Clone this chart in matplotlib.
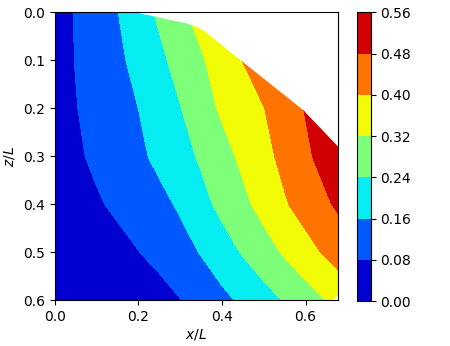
import numpy as np
import matplotlib
matplotlib.use("Agg")
import matplotlib.pyplot as plt
from matplotlib.patches import Polygon

x_pts = [0.00, 0.05, 0.10, 0.15, 0.20, 0.25, 0.30, 0.35, 0.40, 0.45, 0.50, 0.55, 0.60, 0.65, 0.70]
z_pts = [0.0, 0.1, 0.2, 0.3, 0.4, 0.5, 0.6]

field = [
    [0.045, 0.084, 0.121, 0.158, 0.206, 0.252, 0.305, 0.348, 0.388, 0.428, 0.468, 0.508, 0.548, 0.555, 0.555],
    [0.050, 0.082, 0.113, 0.145, 0.182, 0.223, 0.267, 0.311, 0.356, 0.401, 0.439, 0.476, 0.516, 0.550, 0.555],
    [0.050, 0.077, 0.105, 0.132, 0.160, 0.198, 0.237, 0.287, 0.331, 0.365, 0.398, 0.441, 0.484, 0.522, 0.555],
    [0.043, 0.068, 0.094, 0.120, 0.146, 0.176, 0.212, 0.250, 0.293, 0.336, 0.377, 0.421, 0.466, 0.508, 0.548],
    [0.030, 0.047, 0.071, 0.094, 0.118, 0.141, 0.169, 0.216, 0.260, 0.302, 0.346, 0.392, 0.432, 0.470, 0.508],
    [0.008, 0.020, 0.037, 0.055, 0.078, 0.106, 0.134, 0.164, 0.205, 0.246, 0.287, 0.329, 0.371, 0.411, 0.449],
    [0.002, 0.006, 0.012, 0.020, 0.030, 0.046, 0.0775, 0.109, 0.140, 0.174, 0.209, 0.245, 0.284, 0.322, 0.361],
]

# outline of the flow domain (top right part is cut away)
edge_x = [0.0, 0.193, 0.236, 0.316, 0.340, 0.360, 0.395, 0.451, 0.595, 0.678, 0.678, 0.665, 0.0]
edge_z = [0.0, 0.0, 0.008, 0.023, 0.030, 0.040, 0.065, 0.104, 0.204, 0.280, 0.590, 0.600, 0.6]

levels = np.arange(0, 0.561, 0.08)

fig = plt.figure(figsize=(4.5, 3.46), dpi=100)
ax = fig.add_axes([0.1216, 0.132, 0.630, 0.832])
cax = fig.add_axes([0.7926, 0.130, 0.0311, 0.834])

X, Z = np.meshgrid(x_pts, z_pts)
cs = ax.contourf(X, Z, np.array(field), levels=levels, cmap="jet")

domain = Polygon(np.column_stack([edge_x, edge_z]), closed=True,
                 transform=ax.transData, facecolor="none", edgecolor="none")
ax.add_patch(domain)
cs.set_clip_path(domain)

ax.set_xlim(0, 0.678)
ax.set_ylim(0.6, 0)
ax.set_xticks([0.0, 0.2, 0.4, 0.6])
ax.set_yticks([0.0, 0.1, 0.2, 0.3, 0.4, 0.5, 0.6])
ax.set_xlabel("$x/L$", labelpad=2)
ax.set_ylabel("$z/L$")

cb = fig.colorbar(cs, cax=cax, ticks=levels, format="%.2f")

fig.savefig("out.png", dpi=100)
